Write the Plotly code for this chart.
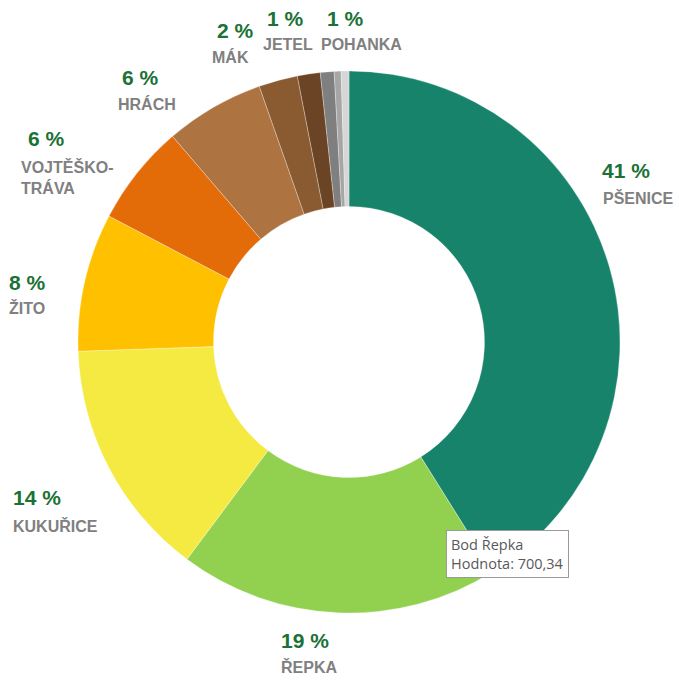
import plotly.graph_objects as go

# ---- data ----
crops = ["Pšenice", "Řepka", "Kukuřice", "Žito", "Vojtěško-tráva", "Hrách",
         "Mák", "Jetel", "Pohanka", "Ostatní A", "Ostatní B"]
values = [1508, 700.34, 523, 302, 221, 217, 85, 50, 30, 15, 17]
label_lines = [["PŠENICE"], ["ŘEPKA"], ["KUKUŘICE"], ["ŽITO"], ["VOJTĚŠKO-", "TRÁVA"],
               ["HRÁCH"], ["MÁK"], ["JETEL"], ["POHANKA"], None, None]
colors = ["#17836B", "#92D050", "#F5EA42", "#FFC000", "#E36C09", "#AD7341",
          "#8A5A31", "#6A4424", "#7F7F7F", "#A6A6A6", "#D6D6D6"]

W, H = 679, 686
cx, cy, R = 349, 342, 271

fig = go.Figure(go.Pie(
    labels=crops, values=values, sort=False, direction="clockwise", rotation=0,
    hole=0.5, textinfo="none", hoverinfo="label+value",
    marker=dict(colors=colors, line=dict(color="rgba(255,255,255,0.5)", width=0.6)),
    domain=dict(x=[(cx - R) / W, (cx + R) / W], y=[(H - cy - R) / H, (H - cy + R) / H]),
    showlegend=False,
))

total = sum(values)
# label anchor positions in pixels: (pct_x, pct_y, name_x, name_y)
label_pos = [
    (601, 170, 602, 198),
    (280, 640, 280, 667),
    (12, 497, 12, 526),
    (8, 282, 8, 308),
    (27, 139, 20, 177),
    (121, 77, 117, 104),
    (216, 30, 211, 57),
    (266, 18, 262, 45),
    (326, 18, 320, 45),
]

anns = []
for i, pos in enumerate(label_pos):
    px, py, nx, ny = pos
    pct = round(values[i] / total * 100)
    anns.append(dict(x=px / W, y=1 - py / H, xref="paper", yref="paper",
                     xanchor="left", yanchor="middle", showarrow=False,
                     text=f"<b>{pct} %</b>", borderpad=0,
                     font=dict(family="Liberation Sans, Arial", size=21, color="#1B7236")))
    anns.append(dict(x=nx / W, y=1 - ny / H, xref="paper", yref="paper",
                     xanchor="left", yanchor="middle", showarrow=False, align="left",
                     text="<b>" + "<br>".join(label_lines[i]) + "</b>", borderpad=0,
                     font=dict(family="Liberation Sans, Arial", size=16, color="#808080")))

# hover-like tooltip for Řepka
val_txt = f"{values[1]:.2f}".replace(".", ",")
tx, ty = 446, 530
anns.append(dict(x=tx / W, y=1 - ty / H, xref="paper", yref="paper",
                 xanchor="left", yanchor="top", showarrow=False, align="left",
                 text=f"Bod {crops[1]}<br>Hodnota: {val_txt}",
                 bgcolor="white", bordercolor="#9A9A9A", borderwidth=1, borderpad=4,
                 font=dict(family="Open Sans, Liberation Sans", size=14.5, color="#595959")))

fig.update_layout(
    width=W, height=H, margin=dict(l=0, r=0, t=0, b=0),
    paper_bgcolor="white", plot_bgcolor="white",
    annotations=anns,
)
fig.write_html("out.html")
